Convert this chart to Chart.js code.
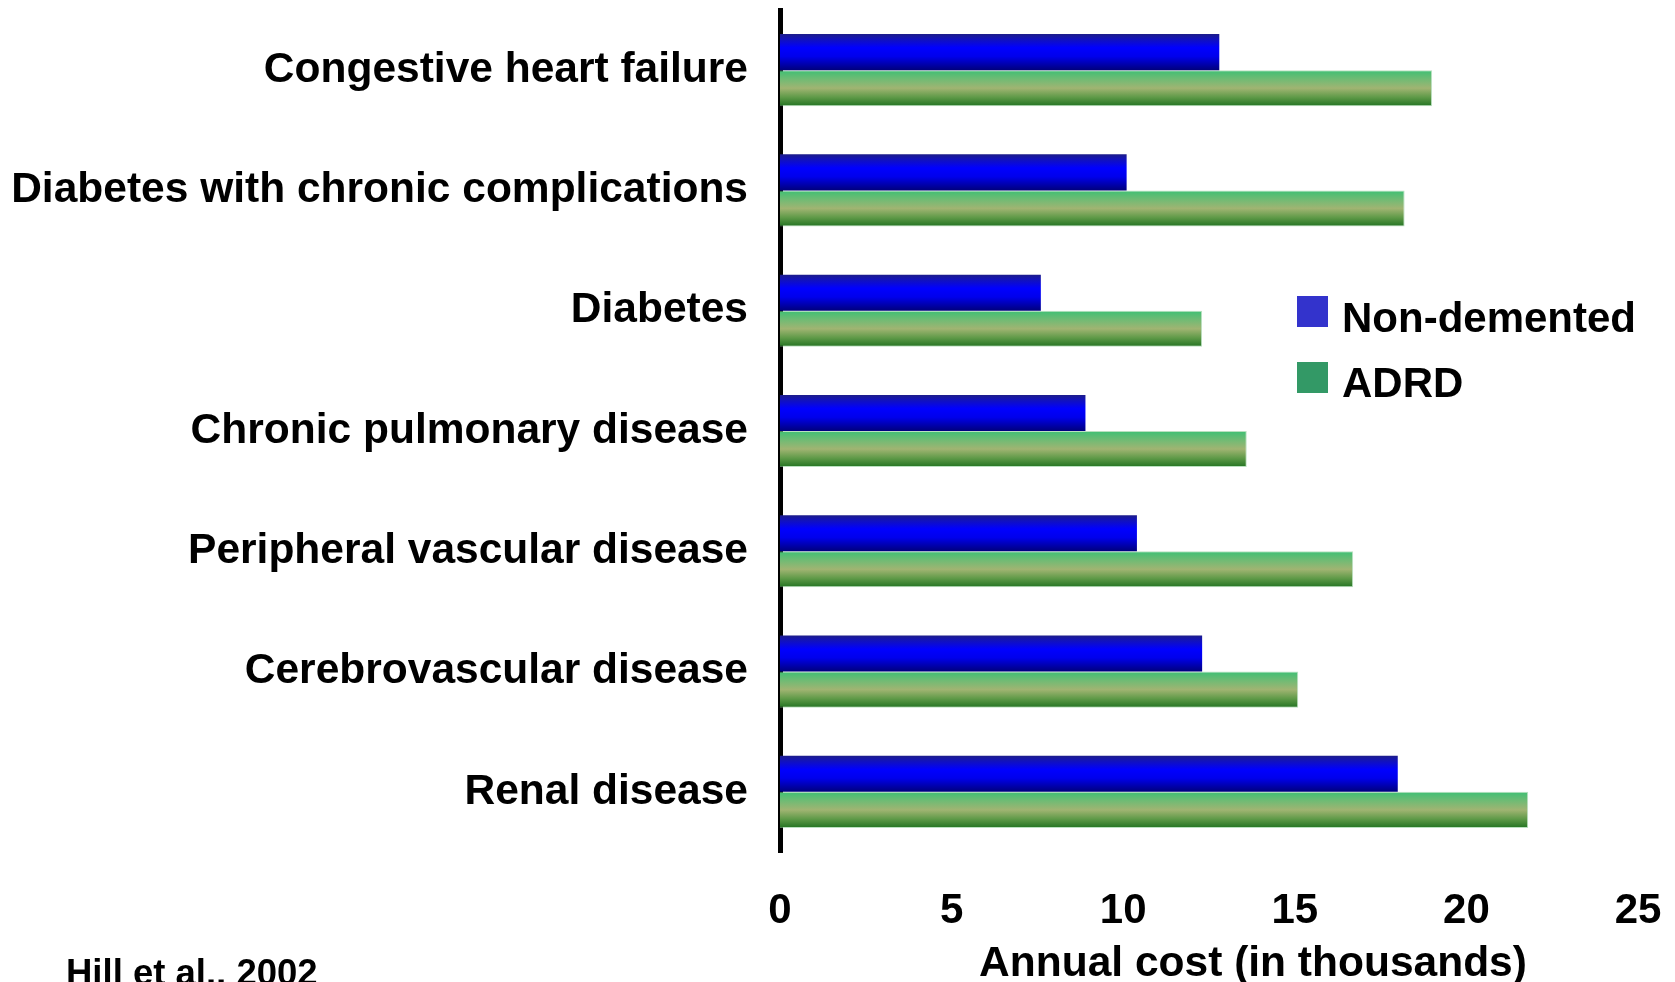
<!DOCTYPE html>
<html>
<head>
<meta charset="utf-8">
<script src="https://cdn.jsdelivr.net/npm/chart.js@4.4.1/dist/chart.umd.min.js"></script>
<style>
    html, body { margin: 0; padding: 0; background: #fff; }
    #wrap { position: relative; width: 1675px; height: 982px; }
</style>
</head>
<body>
<div id="wrap"><canvas id="costChart"></canvas></div>
<script>
// datos (miles de dolares)
const categorias = [
    "Congestive heart failure",
    "Diabetes with chronic complications",
    "Diabetes",
    "Chronic pulmonary disease",
    "Peripheral vascular disease",
    "Cerebrovascular disease",
    "Renal disease"
];
const nonDemented = [12.8, 10.1, 7.6, 8.9, 10.4, 12.3, 18.0];
const adrd = [19.0, 18.2, 12.3, 13.6, 16.7, 15.1, 21.8];
const serieNombres = ["Non-demented", "ADRD"];
const ticksX = [0, 5, 10, 15, 20, 25];
const tituloX = "Annual cost (in thousands)";
const fuente = "Hill et al., 2002";

const FONT = "'Liberation Sans', Arial, sans-serif";
const CAT_PCT = 0.6;

const azulStops = [[0, '#1c1c8a'], [0.12, '#1414b4'], [0.38, '#0000ff'], [0.62, '#0000ec'], [1, '#00007c']];
const verdeStops = [[0, '#3fbf74'], [0.25, '#70bb74'], [0.5, '#a0b472'], [0.75, '#5f9a48'], [1, '#237322']];
const legendColors = ['#3333cc', '#339966'];

// gradiente vertical para cada barra, calculado con la escala y
function barGradient(context, stops) {
    const chart = context.chart;
    const y = chart.scales.y;
    if (context.type !== 'data' || !y) return stops[2][1];
    const c = y.getPixelForValue(context.dataIndex);
    const cat = Math.abs(y.getPixelForValue(1) - y.getPixelForValue(0));
    if (!isFinite(c) || !isFinite(cat) || cat === 0) return stops[2][1];
    const range = cat * CAT_PCT;
    const size = range / 2;
    const top = c - range / 2 + context.datasetIndex * size;
    const g = chart.ctx.createLinearGradient(0, top, 0, top + size);
    stops.forEach(s => g.addColorStop(s[0], s[1]));
    return g;
}

// leyenda y textos extra
const extrasPlugin = {
    id: 'extras',
    afterDraw(chart) {
        const ctx = chart.ctx;
        ctx.save();
        ctx.fillStyle = '#000';
        ctx.textBaseline = 'alphabetic';

        // leyenda
        const lx = 1297, ly = [296, 362], base = [332, 397];
        serieNombres.forEach((n, i) => {
            ctx.fillStyle = legendColors[i];
            ctx.fillRect(lx, ly[i], 31, 31);
            ctx.fillStyle = '#000';
            ctx.font = "bold 42px " + FONT;
            ctx.textAlign = 'left';
            ctx.fillText(n, 1342, base[i]);
        });

        // titulo eje x
        ctx.font = "bold 42.5px " + FONT;
        ctx.textAlign = 'center';
        ctx.fillText(tituloX, 1253, 976);

        // fuente
        ctx.font = "bold 36.5px " + FONT;
        ctx.textAlign = 'left';
        ctx.fillText(fuente, 66, 985);
        ctx.restore();
    }
};

const chart = new Chart(document.getElementById('costChart').getContext('2d'), {
    type: 'bar',
    data: {
        labels: categorias,
        datasets: [
            {
                label: serieNombres[0],
                data: nonDemented,
                backgroundColor: (c) => barGradient(c, azulStops),
                borderWidth: 0
            },
            {
                label: serieNombres[1],
                data: adrd,
                backgroundColor: (c) => barGradient(c, verdeStops),
                borderColor: 'rgba(140, 205, 150, 0.6)',
                borderWidth: 1,
                borderSkipped: 'start'
            }
        ]
    },
    options: {
        indexAxis: 'y',
        responsive: true,
        maintainAspectRatio: false,
        animation: false,
        datasets: {
            bar: {
                categoryPercentage: CAT_PCT,
                barPercentage: 1.0
            }
        },
        layout: {
            padding: { top: 10, right: 37, bottom: 0, left: 0 }
        },
        plugins: {
            legend: { display: false },
            tooltip: { enabled: false }
        },
        scales: {
            x: {
                min: 0,
                max: 25,
                afterBuildTicks(scale) {
                    scale.ticks = ticksX.map(v => ({ value: v }));
                },
                afterFit(scale) {
                    scale.height = 130;
                    scale.paddingLeft = 0;
                    scale.paddingRight = 0;
                },
                grid: { display: false, drawTicks: false },
                border: { display: false },
                ticks: {
                    color: '#000',
                    padding: 34,
                    font: { family: FONT, size: 42, weight: 'bold' }
                }
            },
            y: {
                afterFit(scale) {
                    scale.width = 780;
                    scale.paddingTop = 0;
                    scale.paddingBottom = 0;
                },
                grid: { display: false, drawTicks: false },
                border: { display: true, color: '#000', width: 5 },
                ticks: {
                    color: '#000',
                    padding: 32,
                    font: { family: FONT, size: 42.5, weight: 'bold' }
                }
            }
        }
    },
    plugins: [extrasPlugin]
});
</script>
</body>
</html>
